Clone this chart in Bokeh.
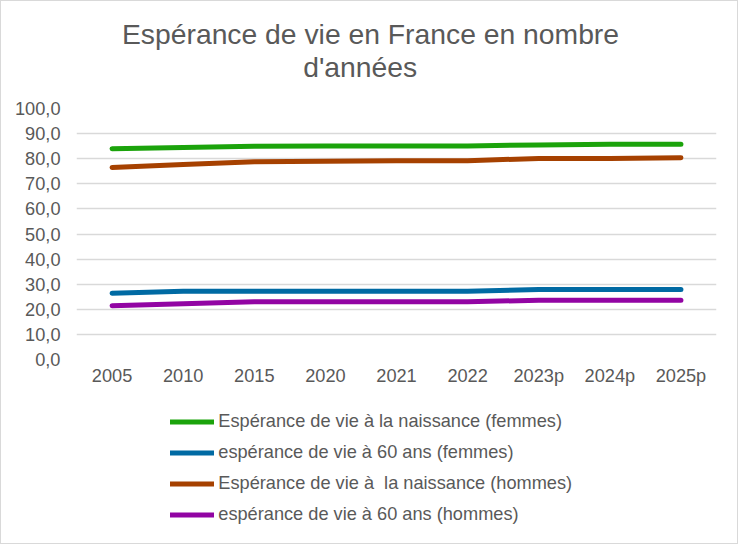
from bokeh.plotting import figure
from bokeh.models import (Range1d, FactorRange, FixedTicker, CustomJSTickFormatter,
                          Label, Legend)
from bokeh.layouts import column
from bokeh.embed import file_html
from bokeh.resources import INLINE

categories = ["2005", "2010", "2015", "2020", "2021", "2022", "2023p", "2024p", "2025p"]
femmes_naissance = [84.0, 84.5, 85.0, 85.1, 85.1, 85.1, 85.5, 85.8, 85.8]
femmes_60 = [26.4, 27.2, 27.2, 27.2, 27.2, 27.2, 27.9, 27.9, 27.9]
hommes_naissance = [76.5, 77.7, 78.8, 79.0, 79.2, 79.2, 80.1, 80.1, 80.4]
hommes_60 = [21.4, 22.2, 23.0, 23.0, 23.0, 23.0, 23.6, 23.6, 23.6]
y_ticks = [0, 10, 20, 30, 40, 50, 60, 70, 80, 90, 100]

title_lines = ["Espérance de vie en France en nombre", "d'années"]
series_labels = [
    "Espérance de vie à la naissance (femmes)",
    "espérance de vie à 60 ans (femmes)",
    "Espérance de vie à  la naissance (hommes)",
    "espérance de vie à 60 ans (hommes)",
]
series_values = [femmes_naissance, femmes_60, hommes_naissance, hommes_60]
series_colors = ["#1BA30B", "#006AA3", "#A64100", "#9204A3"]

FONT = "Liberation Sans"
TXT = "#595959"
W = 736
BL, BR = 75, 21   # left / right borders shared by all strips


def blank(fig):
    fig.background_fill_color = "white"
    fig.border_fill_color = "white"
    fig.outline_line_color = None
    fig.grid.visible = False


# ---- title strip ----
TH = 96
pt = figure(width=W, height=TH, output_backend="svg", toolbar_location=None,
            x_range=Range1d(0, 1), y_range=Range1d(0, 1),
            min_border_left=BL, min_border_right=BR, min_border_top=0,
            min_border_bottom=0, x_axis_type=None, y_axis_type=None)
blank(pt)
pt.add_layout(Label(x=369 - BL, y=63.6, x_units="screen", y_units="screen",
                    text=title_lines[0], text_align="center",
                    text_baseline="alphabetic", text_font=FONT, text_font_size="28.3px",
                    text_color=TXT))
pt.add_layout(Label(x=358.7 - BL, y=31.0, x_units="screen", y_units="screen",
                    text=title_lines[1], text_align="center",
                    text_baseline="alphabetic", text_font=FONT, text_font_size="28.3px",
                    text_color=TXT))

# ---- main chart ----
p = figure(width=W, height=300, output_backend="svg", toolbar_location=None,
           x_range=FactorRange(*categories, range_padding=0),
           y_range=Range1d(0, 100),
           min_border_left=BL, min_border_right=BR, min_border_top=11,
           min_border_bottom=38)
p.background_fill_color = "white"
p.border_fill_color = "white"
p.outline_line_color = None

p.yaxis.ticker = FixedTicker(ticks=y_ticks)
p.yaxis.formatter = CustomJSTickFormatter(code="return tick.toFixed(1).replace('.', ',');")
for ax in (p.xaxis, p.yaxis):
    ax.axis_line_color = None
    ax.major_tick_line_color = None
    ax.minor_tick_line_color = None
    ax.major_tick_out = 0
    ax.major_tick_in = 0
    ax.major_label_text_font = FONT
    ax.major_label_text_font_size = "18.2px"
    ax.major_label_text_color = TXT
p.yaxis.major_label_standoff = 16
p.xaxis.major_label_standoff = 6

p.xgrid.grid_line_color = None
p.ygrid.grid_line_color = "#D9D9D9"
p.ygrid.grid_line_width = 1.3
p.ygrid.ticker = FixedTicker(ticks=y_ticks)

for vals, col in zip(series_values, series_colors):
    p.line(x=categories, y=vals, line_color=col, line_width=5, line_cap="round",
           line_join="round")

# ---- legend strip ----
LH = 146
pl = figure(width=W, height=LH, output_backend="svg", toolbar_location=None,
            x_range=Range1d(0, 1), y_range=Range1d(0, 1),
            min_border_left=BL, min_border_right=BR, min_border_top=0,
            min_border_bottom=0, x_axis_type=None, y_axis_type=None)
blank(pl)
items = []
nan = float("nan")
for lab, col in zip(series_labels, series_colors):
    # legend key only: a single NaN point draws nothing in the strip
    r = pl.line(x=[nan], y=[nan], line_color=col, line_width=5, line_cap="round")
    items.append((lab, [r]))
legend = Legend(items=items, location=(169.3 - BL, 17.9), orientation="vertical",
                glyph_width=44, glyph_height=21, label_height=21, label_standoff=4,
                spacing=10, padding=0, margin=0, border_line_color=None,
                background_fill_alpha=0, label_text_font=FONT,
                label_text_font_size="18.2px", label_text_color=TXT)
pl.add_layout(legend, "center")

layout = column(pt, p, pl, spacing=0,
                styles={"border": "1px solid #d9d9d9", "background-color": "white"})

open("out.html", "w").write(file_html(layout, INLINE))
